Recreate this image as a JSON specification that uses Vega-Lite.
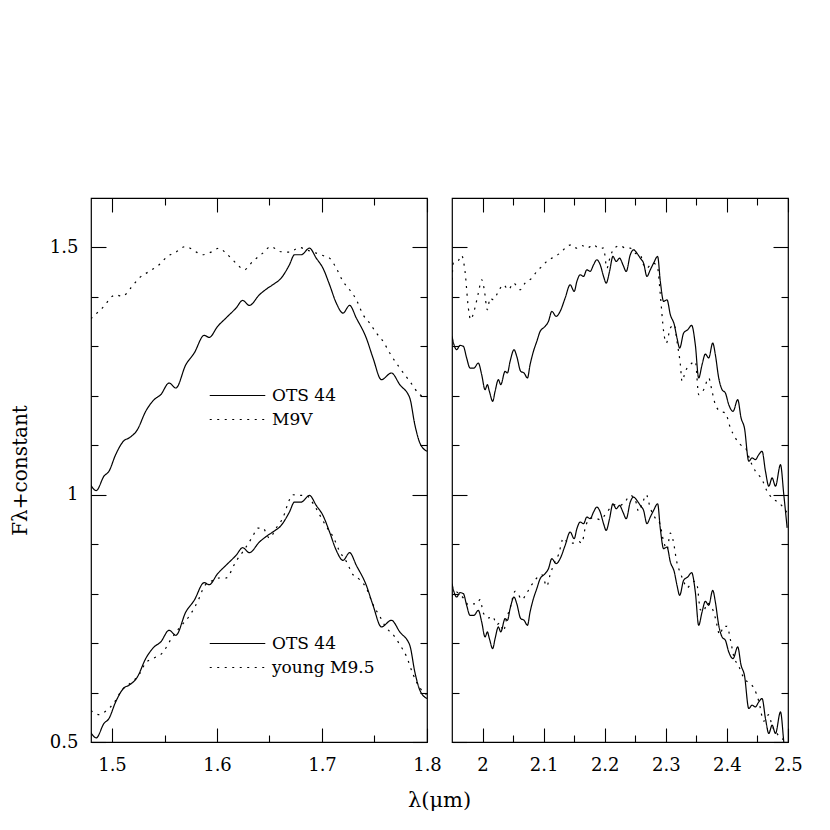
{
  "$schema": "https://vega.github.io/schema/vega-lite/v6.json",
  "padding": {"left": 9, "top": 196, "right": 5, "bottom": 5},
  "bounds": "flush",
  "spacing": 25,
  "datasets": {
    "spectra": [
      {"band":"H","pair":"upper","object":"OTS 44","wl":1.4799,"f":1.019},
      {"band":"H","pair":"upper","object":"OTS 44","wl":1.485,"f":1.0084},
      {"band":"H","pair":"upper","object":"OTS 44","wl":1.4923,"f":1.0374},
      {"band":"H","pair":"upper","object":"OTS 44","wl":1.4971,"f":1.0475},
      {"band":"H","pair":"upper","object":"OTS 44","wl":1.5035,"f":1.0811},
      {"band":"H","pair":"upper","object":"OTS 44","wl":1.5114,"f":1.1094},
      {"band":"H","pair":"upper","object":"OTS 44","wl":1.5162,"f":1.1148},
      {"band":"H","pair":"upper","object":"OTS 44","wl":1.5242,"f":1.1316},
      {"band":"H","pair":"upper","object":"OTS 44","wl":1.5321,"f":1.1687},
      {"band":"H","pair":"upper","object":"OTS 44","wl":1.5401,"f":1.1922},
      {"band":"H","pair":"upper","object":"OTS 44","wl":1.5464,"f":1.2023},
      {"band":"H","pair":"upper","object":"OTS 44","wl":1.5544,"f":1.2259},
      {"band":"H","pair":"upper","object":"OTS 44","wl":1.5608,"f":1.2158},
      {"band":"H","pair":"upper","object":"OTS 44","wl":1.5703,"f":1.2629},
      {"band":"H","pair":"upper","object":"OTS 44","wl":1.5783,"f":1.2865},
      {"band":"H","pair":"upper","object":"OTS 44","wl":1.5878,"f":1.3222},
      {"band":"H","pair":"upper","object":"OTS 44","wl":1.5926,"f":1.3182},
      {"band":"H","pair":"upper","object":"OTS 44","wl":1.6006,"f":1.3404},
      {"band":"H","pair":"upper","object":"OTS 44","wl":1.6085,"f":1.3572},
      {"band":"H","pair":"upper","object":"OTS 44","wl":1.6181,"f":1.3774},
      {"band":"H","pair":"upper","object":"OTS 44","wl":1.6245,"f":1.3929},
      {"band":"H","pair":"upper","object":"OTS 44","wl":1.6308,"f":1.3828},
      {"band":"H","pair":"upper","object":"OTS 44","wl":1.6404,"f":1.4044},
      {"band":"H","pair":"upper","object":"OTS 44","wl":1.6483,"f":1.4178},
      {"band":"H","pair":"upper","object":"OTS 44","wl":1.6531,"f":1.4246},
      {"band":"H","pair":"upper","object":"OTS 44","wl":1.6611,"f":1.438},
      {"band":"H","pair":"upper","object":"OTS 44","wl":1.669,"f":1.465},
      {"band":"H","pair":"upper","object":"OTS 44","wl":1.6738,"f":1.4852},
      {"band":"H","pair":"upper","object":"OTS 44","wl":1.6802,"f":1.4852},
      {"band":"H","pair":"upper","object":"OTS 44","wl":1.6881,"f":1.4986},
      {"band":"H","pair":"upper","object":"OTS 44","wl":1.6945,"f":1.4784},
      {"band":"H","pair":"upper","object":"OTS 44","wl":1.7009,"f":1.4582},
      {"band":"H","pair":"upper","object":"OTS 44","wl":1.7072,"f":1.4246},
      {"band":"H","pair":"upper","object":"OTS 44","wl":1.7136,"f":1.3875},
      {"band":"H","pair":"upper","object":"OTS 44","wl":1.72,"f":1.3673},
      {"band":"H","pair":"upper","object":"OTS 44","wl":1.7263,"f":1.3828},
      {"band":"H","pair":"upper","object":"OTS 44","wl":1.7327,"f":1.3572},
      {"band":"H","pair":"upper","object":"OTS 44","wl":1.7422,"f":1.3168},
      {"band":"H","pair":"upper","object":"OTS 44","wl":1.7486,"f":1.2764},
      {"band":"H","pair":"upper","object":"OTS 44","wl":1.7566,"f":1.2327},
      {"band":"H","pair":"upper","object":"OTS 44","wl":1.7661,"f":1.2461},
      {"band":"H","pair":"upper","object":"OTS 44","wl":1.7741,"f":1.2225},
      {"band":"H","pair":"upper","object":"OTS 44","wl":1.7836,"f":1.1956},
      {"band":"H","pair":"upper","object":"OTS 44","wl":1.7884,"f":1.1417},
      {"band":"H","pair":"upper","object":"OTS 44","wl":1.7932,"f":1.1047},
      {"band":"H","pair":"upper","object":"OTS 44","wl":1.8,"f":1.0879},

      {"band":"H","pair":"upper","object":"M9V","wl":1.4799,"f":1.3559},
      {"band":"H","pair":"upper","object":"M9V","wl":1.4907,"f":1.3774},
      {"band":"H","pair":"upper","object":"M9V","wl":1.5035,"f":1.4044},
      {"band":"H","pair":"upper","object":"M9V","wl":1.5098,"f":1.401},
      {"band":"H","pair":"upper","object":"M9V","wl":1.5178,"f":1.4178},
      {"band":"H","pair":"upper","object":"M9V","wl":1.5258,"f":1.438},
      {"band":"H","pair":"upper","object":"M9V","wl":1.5353,"f":1.4515},
      {"band":"H","pair":"upper","object":"M9V","wl":1.5449,"f":1.465},
      {"band":"H","pair":"upper","object":"M9V","wl":1.5528,"f":1.4818},
      {"band":"H","pair":"upper","object":"M9V","wl":1.5608,"f":1.4905},
      {"band":"H","pair":"upper","object":"M9V","wl":1.5703,"f":1.502},
      {"band":"H","pair":"upper","object":"M9V","wl":1.5783,"f":1.4932},
      {"band":"H","pair":"upper","object":"M9V","wl":1.5862,"f":1.4852},
      {"band":"H","pair":"upper","object":"M9V","wl":1.5942,"f":1.4905},
      {"band":"H","pair":"upper","object":"M9V","wl":1.6022,"f":1.4986},
      {"band":"H","pair":"upper","object":"M9V","wl":1.6085,"f":1.4885},
      {"band":"H","pair":"upper","object":"M9V","wl":1.6181,"f":1.4683},
      {"band":"H","pair":"upper","object":"M9V","wl":1.626,"f":1.4549},
      {"band":"H","pair":"upper","object":"M9V","wl":1.634,"f":1.4717},
      {"band":"H","pair":"upper","object":"M9V","wl":1.6436,"f":1.4885},
      {"band":"H","pair":"upper","object":"M9V","wl":1.6515,"f":1.502},
      {"band":"H","pair":"upper","object":"M9V","wl":1.6595,"f":1.4919},
      {"band":"H","pair":"upper","object":"M9V","wl":1.669,"f":1.4905},
      {"band":"H","pair":"upper","object":"M9V","wl":1.6786,"f":1.5},
      {"band":"H","pair":"upper","object":"M9V","wl":1.6849,"f":1.4953},
      {"band":"H","pair":"upper","object":"M9V","wl":1.6945,"f":1.4885},
      {"band":"H","pair":"upper","object":"M9V","wl":1.7009,"f":1.4838},
      {"band":"H","pair":"upper","object":"M9V","wl":1.7072,"f":1.4784},
      {"band":"H","pair":"upper","object":"M9V","wl":1.7136,"f":1.4582},
      {"band":"H","pair":"upper","object":"M9V","wl":1.72,"f":1.4313},
      {"band":"H","pair":"upper","object":"M9V","wl":1.7263,"f":1.4145},
      {"band":"H","pair":"upper","object":"M9V","wl":1.7327,"f":1.3943},
      {"band":"H","pair":"upper","object":"M9V","wl":1.7391,"f":1.364},
      {"band":"H","pair":"upper","object":"M9V","wl":1.7454,"f":1.3471},
      {"band":"H","pair":"upper","object":"M9V","wl":1.7518,"f":1.3269},
      {"band":"H","pair":"upper","object":"M9V","wl":1.7582,"f":1.3101},
      {"band":"H","pair":"upper","object":"M9V","wl":1.7645,"f":1.2865},
      {"band":"H","pair":"upper","object":"M9V","wl":1.7741,"f":1.2562},
      {"band":"H","pair":"upper","object":"M9V","wl":1.7836,"f":1.2293},
      {"band":"H","pair":"upper","object":"M9V","wl":1.7932,"f":1.2023},
      {"band":"H","pair":"upper","object":"M9V","wl":1.8,"f":1.1956},

      {"band":"H","pair":"lower","object":"OTS 44","wl":1.4799,"f":0.519},
      {"band":"H","pair":"lower","object":"OTS 44","wl":1.485,"f":0.5084},
      {"band":"H","pair":"lower","object":"OTS 44","wl":1.4923,"f":0.5374},
      {"band":"H","pair":"lower","object":"OTS 44","wl":1.4971,"f":0.5475},
      {"band":"H","pair":"lower","object":"OTS 44","wl":1.5035,"f":0.5811},
      {"band":"H","pair":"lower","object":"OTS 44","wl":1.5114,"f":0.6094},
      {"band":"H","pair":"lower","object":"OTS 44","wl":1.5162,"f":0.6148},
      {"band":"H","pair":"lower","object":"OTS 44","wl":1.5242,"f":0.6316},
      {"band":"H","pair":"lower","object":"OTS 44","wl":1.5321,"f":0.6687},
      {"band":"H","pair":"lower","object":"OTS 44","wl":1.5401,"f":0.6922},
      {"band":"H","pair":"lower","object":"OTS 44","wl":1.5464,"f":0.7023},
      {"band":"H","pair":"lower","object":"OTS 44","wl":1.5544,"f":0.7259},
      {"band":"H","pair":"lower","object":"OTS 44","wl":1.5608,"f":0.7158},
      {"band":"H","pair":"lower","object":"OTS 44","wl":1.5703,"f":0.7629},
      {"band":"H","pair":"lower","object":"OTS 44","wl":1.5783,"f":0.7865},
      {"band":"H","pair":"lower","object":"OTS 44","wl":1.5878,"f":0.8222},
      {"band":"H","pair":"lower","object":"OTS 44","wl":1.5926,"f":0.8182},
      {"band":"H","pair":"lower","object":"OTS 44","wl":1.6006,"f":0.8404},
      {"band":"H","pair":"lower","object":"OTS 44","wl":1.6085,"f":0.8572},
      {"band":"H","pair":"lower","object":"OTS 44","wl":1.6181,"f":0.8774},
      {"band":"H","pair":"lower","object":"OTS 44","wl":1.6245,"f":0.8929},
      {"band":"H","pair":"lower","object":"OTS 44","wl":1.6308,"f":0.8828},
      {"band":"H","pair":"lower","object":"OTS 44","wl":1.6404,"f":0.9044},
      {"band":"H","pair":"lower","object":"OTS 44","wl":1.6483,"f":0.9178},
      {"band":"H","pair":"lower","object":"OTS 44","wl":1.6531,"f":0.9246},
      {"band":"H","pair":"lower","object":"OTS 44","wl":1.6611,"f":0.938},
      {"band":"H","pair":"lower","object":"OTS 44","wl":1.669,"f":0.965},
      {"band":"H","pair":"lower","object":"OTS 44","wl":1.6738,"f":0.9852},
      {"band":"H","pair":"lower","object":"OTS 44","wl":1.6802,"f":0.9852},
      {"band":"H","pair":"lower","object":"OTS 44","wl":1.6881,"f":0.9986},
      {"band":"H","pair":"lower","object":"OTS 44","wl":1.6945,"f":0.9784},
      {"band":"H","pair":"lower","object":"OTS 44","wl":1.7009,"f":0.9582},
      {"band":"H","pair":"lower","object":"OTS 44","wl":1.7072,"f":0.9246},
      {"band":"H","pair":"lower","object":"OTS 44","wl":1.7136,"f":0.8875},
      {"band":"H","pair":"lower","object":"OTS 44","wl":1.72,"f":0.8673},
      {"band":"H","pair":"lower","object":"OTS 44","wl":1.7263,"f":0.8828},
      {"band":"H","pair":"lower","object":"OTS 44","wl":1.7327,"f":0.8572},
      {"band":"H","pair":"lower","object":"OTS 44","wl":1.7422,"f":0.8168},
      {"band":"H","pair":"lower","object":"OTS 44","wl":1.7486,"f":0.7764},
      {"band":"H","pair":"lower","object":"OTS 44","wl":1.7566,"f":0.7327},
      {"band":"H","pair":"lower","object":"OTS 44","wl":1.7661,"f":0.7461},
      {"band":"H","pair":"lower","object":"OTS 44","wl":1.7741,"f":0.7225},
      {"band":"H","pair":"lower","object":"OTS 44","wl":1.7836,"f":0.6956},
      {"band":"H","pair":"lower","object":"OTS 44","wl":1.7884,"f":0.6417},
      {"band":"H","pair":"lower","object":"OTS 44","wl":1.7932,"f":0.6047},
      {"band":"H","pair":"lower","object":"OTS 44","wl":1.8,"f":0.5879},

      {"band":"H","pair":"lower","object":"young M9.5","wl":1.4799,"f":0.5636},
      {"band":"H","pair":"lower","object":"young M9.5","wl":1.4876,"f":0.5555},
      {"band":"H","pair":"lower","object":"young M9.5","wl":1.4939,"f":0.5623},
      {"band":"H","pair":"lower","object":"young M9.5","wl":1.5019,"f":0.5791},
      {"band":"H","pair":"lower","object":"young M9.5","wl":1.5098,"f":0.606},
      {"band":"H","pair":"lower","object":"young M9.5","wl":1.5178,"f":0.6195},
      {"band":"H","pair":"lower","object":"young M9.5","wl":1.5258,"f":0.6363},
      {"band":"H","pair":"lower","object":"young M9.5","wl":1.5321,"f":0.6599},
      {"band":"H","pair":"lower","object":"young M9.5","wl":1.5401,"f":0.67},
      {"band":"H","pair":"lower","object":"young M9.5","wl":1.548,"f":0.6801},
      {"band":"H","pair":"lower","object":"young M9.5","wl":1.556,"f":0.707},
      {"band":"H","pair":"lower","object":"young M9.5","wl":1.564,"f":0.7306},
      {"band":"H","pair":"lower","object":"young M9.5","wl":1.5735,"f":0.7542},
      {"band":"H","pair":"lower","object":"young M9.5","wl":1.5831,"f":0.7912},
      {"band":"H","pair":"lower","object":"young M9.5","wl":1.5878,"f":0.8148},
      {"band":"H","pair":"lower","object":"young M9.5","wl":1.5942,"f":0.8249},
      {"band":"H","pair":"lower","object":"young M9.5","wl":1.6022,"f":0.8316},
      {"band":"H","pair":"lower","object":"young M9.5","wl":1.6085,"f":0.8316},
      {"band":"H","pair":"lower","object":"young M9.5","wl":1.6181,"f":0.8653},
      {"band":"H","pair":"lower","object":"young M9.5","wl":1.626,"f":0.8889},
      {"band":"H","pair":"lower","object":"young M9.5","wl":1.634,"f":0.9158},
      {"band":"H","pair":"lower","object":"young M9.5","wl":1.6388,"f":0.9326},
      {"band":"H","pair":"lower","object":"young M9.5","wl":1.6436,"f":0.9326},
      {"band":"H","pair":"lower","object":"young M9.5","wl":1.6499,"f":0.9124},
      {"band":"H","pair":"lower","object":"young M9.5","wl":1.6563,"f":0.9326},
      {"band":"H","pair":"lower","object":"young M9.5","wl":1.6627,"f":0.9528},
      {"band":"H","pair":"lower","object":"young M9.5","wl":1.669,"f":0.9899},
      {"band":"H","pair":"lower","object":"young M9.5","wl":1.6722,"f":1.0},
      {"band":"H","pair":"lower","object":"young M9.5","wl":1.6786,"f":0.9986},
      {"band":"H","pair":"lower","object":"young M9.5","wl":1.6849,"f":0.9986},
      {"band":"H","pair":"lower","object":"young M9.5","wl":1.6913,"f":0.9831},
      {"band":"H","pair":"lower","object":"young M9.5","wl":1.6977,"f":0.9596},
      {"band":"H","pair":"lower","object":"young M9.5","wl":1.704,"f":0.936},
      {"band":"H","pair":"lower","object":"young M9.5","wl":1.7104,"f":0.9158},
      {"band":"H","pair":"lower","object":"young M9.5","wl":1.7168,"f":0.8855},
      {"band":"H","pair":"lower","object":"young M9.5","wl":1.7231,"f":0.8653},
      {"band":"H","pair":"lower","object":"young M9.5","wl":1.7295,"f":0.8383},
      {"band":"H","pair":"lower","object":"young M9.5","wl":1.7359,"f":0.8283},
      {"band":"H","pair":"lower","object":"young M9.5","wl":1.7422,"f":0.8114},
      {"band":"H","pair":"lower","object":"young M9.5","wl":1.7486,"f":0.7778},
      {"band":"H","pair":"lower","object":"young M9.5","wl":1.755,"f":0.7542},
      {"band":"H","pair":"lower","object":"young M9.5","wl":1.7613,"f":0.7306},
      {"band":"H","pair":"lower","object":"young M9.5","wl":1.7677,"f":0.7171},
      {"band":"H","pair":"lower","object":"young M9.5","wl":1.7741,"f":0.6969},
      {"band":"H","pair":"lower","object":"young M9.5","wl":1.7804,"f":0.6733},
      {"band":"H","pair":"lower","object":"young M9.5","wl":1.7868,"f":0.6363},
      {"band":"H","pair":"lower","object":"young M9.5","wl":1.7932,"f":0.6094},
      {"band":"H","pair":"lower","object":"young M9.5","wl":1.7995,"f":0.5959},

      {"band":"K","pair":"upper","object":"OTS 44","wl":1.95,"f":1.3202},
      {"band":"K","pair":"upper","object":"OTS 44","wl":1.9533,"f":1.3033},
      {"band":"K","pair":"upper","object":"OTS 44","wl":1.9576,"f":1.2932},
      {"band":"K","pair":"upper","object":"OTS 44","wl":1.9631,"f":1.302},
      {"band":"K","pair":"upper","object":"OTS 44","wl":1.9686,"f":1.3},
      {"band":"K","pair":"upper","object":"OTS 44","wl":1.974,"f":1.2764},
      {"band":"K","pair":"upper","object":"OTS 44","wl":1.9795,"f":1.2562},
      {"band":"K","pair":"upper","object":"OTS 44","wl":1.986,"f":1.2562},
      {"band":"K","pair":"upper","object":"OTS 44","wl":1.9931,"f":1.2663},
      {"band":"K","pair":"upper","object":"OTS 44","wl":1.9986,"f":1.2427},
      {"band":"K","pair":"upper","object":"OTS 44","wl":2.0041,"f":1.2124},
      {"band":"K","pair":"upper","object":"OTS 44","wl":2.0079,"f":1.2225},
      {"band":"K","pair":"upper","object":"OTS 44","wl":2.0112,"f":1.209},
      {"band":"K","pair":"upper","object":"OTS 44","wl":2.0166,"f":1.1889},
      {"band":"K","pair":"upper","object":"OTS 44","wl":2.0205,"f":1.209},
      {"band":"K","pair":"upper","object":"OTS 44","wl":2.0259,"f":1.2326},
      {"band":"K","pair":"upper","object":"OTS 44","wl":2.0298,"f":1.2225},
      {"band":"K","pair":"upper","object":"OTS 44","wl":2.0369,"f":1.2495},
      {"band":"K","pair":"upper","object":"OTS 44","wl":2.0407,"f":1.2461},
      {"band":"K","pair":"upper","object":"OTS 44","wl":2.0451,"f":1.2697},
      {"band":"K","pair":"upper","object":"OTS 44","wl":2.0516,"f":1.2932},
      {"band":"K","pair":"upper","object":"OTS 44","wl":2.056,"f":1.2798},
      {"band":"K","pair":"upper","object":"OTS 44","wl":2.0625,"f":1.2495},
      {"band":"K","pair":"upper","object":"OTS 44","wl":2.068,"f":1.2461},
      {"band":"K","pair":"upper","object":"OTS 44","wl":2.0735,"f":1.236},
      {"band":"K","pair":"upper","object":"OTS 44","wl":2.0778,"f":1.2629},
      {"band":"K","pair":"upper","object":"OTS 44","wl":2.0833,"f":1.2899},
      {"band":"K","pair":"upper","object":"OTS 44","wl":2.0888,"f":1.3101},
      {"band":"K","pair":"upper","object":"OTS 44","wl":2.0943,"f":1.3303},
      {"band":"K","pair":"upper","object":"OTS 44","wl":2.1024,"f":1.3404},
      {"band":"K","pair":"upper","object":"OTS 44","wl":2.1079,"f":1.3505},
      {"band":"K","pair":"upper","object":"OTS 44","wl":2.1134,"f":1.3707},
      {"band":"K","pair":"upper","object":"OTS 44","wl":2.1205,"f":1.3606},
      {"band":"K","pair":"upper","object":"OTS 44","wl":2.127,"f":1.3707},
      {"band":"K","pair":"upper","object":"OTS 44","wl":2.1352,"f":1.3976},
      {"band":"K","pair":"upper","object":"OTS 44","wl":2.1434,"f":1.4246},
      {"band":"K","pair":"upper","object":"OTS 44","wl":2.15,"f":1.4111},
      {"band":"K","pair":"upper","object":"OTS 44","wl":2.1544,"f":1.4313},
      {"band":"K","pair":"upper","object":"OTS 44","wl":2.1598,"f":1.4448},
      {"band":"K","pair":"upper","object":"OTS 44","wl":2.1653,"f":1.4414},
      {"band":"K","pair":"upper","object":"OTS 44","wl":2.1707,"f":1.4549},
      {"band":"K","pair":"upper","object":"OTS 44","wl":2.1762,"f":1.4515},
      {"band":"K","pair":"upper","object":"OTS 44","wl":2.1817,"f":1.465},
      {"band":"K","pair":"upper","object":"OTS 44","wl":2.1871,"f":1.4751},
      {"band":"K","pair":"upper","object":"OTS 44","wl":2.1926,"f":1.465},
      {"band":"K","pair":"upper","object":"OTS 44","wl":2.1981,"f":1.4414},
      {"band":"K","pair":"upper","object":"OTS 44","wl":2.2024,"f":1.4279},
      {"band":"K","pair":"upper","object":"OTS 44","wl":2.2079,"f":1.4515},
      {"band":"K","pair":"upper","object":"OTS 44","wl":2.2134,"f":1.4818},
      {"band":"K","pair":"upper","object":"OTS 44","wl":2.2188,"f":1.4717},
      {"band":"K","pair":"upper","object":"OTS 44","wl":2.2243,"f":1.4784},
      {"band":"K","pair":"upper","object":"OTS 44","wl":2.2298,"f":1.465},
      {"band":"K","pair":"upper","object":"OTS 44","wl":2.2352,"f":1.4515},
      {"band":"K","pair":"upper","object":"OTS 44","wl":2.2418,"f":1.4852},
      {"band":"K","pair":"upper","object":"OTS 44","wl":2.2473,"f":1.4953},
      {"band":"K","pair":"upper","object":"OTS 44","wl":2.2527,"f":1.4885},
      {"band":"K","pair":"upper","object":"OTS 44","wl":2.2582,"f":1.4784},
      {"band":"K","pair":"upper","object":"OTS 44","wl":2.2636,"f":1.4683},
      {"band":"K","pair":"upper","object":"OTS 44","wl":2.2691,"f":1.4414},
      {"band":"K","pair":"upper","object":"OTS 44","wl":2.2746,"f":1.4549},
      {"band":"K","pair":"upper","object":"OTS 44","wl":2.28,"f":1.4683},
      {"band":"K","pair":"upper","object":"OTS 44","wl":2.2866,"f":1.4818},
      {"band":"K","pair":"upper","object":"OTS 44","wl":2.291,"f":1.4313},
      {"band":"K","pair":"upper","object":"OTS 44","wl":2.2964,"f":1.3909},
      {"band":"K","pair":"upper","object":"OTS 44","wl":2.3019,"f":1.3943},
      {"band":"K","pair":"upper","object":"OTS 44","wl":2.3074,"f":1.364},
      {"band":"K","pair":"upper","object":"OTS 44","wl":2.3139,"f":1.3438},
      {"band":"K","pair":"upper","object":"OTS 44","wl":2.3183,"f":1.3168},
      {"band":"K","pair":"upper","object":"OTS 44","wl":2.3227,"f":1.2966},
      {"band":"K","pair":"upper","object":"OTS 44","wl":2.3292,"f":1.327},
      {"band":"K","pair":"upper","object":"OTS 44","wl":2.3358,"f":1.3337},
      {"band":"K","pair":"upper","object":"OTS 44","wl":2.3423,"f":1.3424},
      {"band":"K","pair":"upper","object":"OTS 44","wl":2.3483,"f":1.3033},
      {"band":"K","pair":"upper","object":"OTS 44","wl":2.3538,"f":1.236},
      {"band":"K","pair":"upper","object":"OTS 44","wl":2.3593,"f":1.2629},
      {"band":"K","pair":"upper","object":"OTS 44","wl":2.3647,"f":1.2845},
      {"band":"K","pair":"upper","object":"OTS 44","wl":2.3702,"f":1.2764},
      {"band":"K","pair":"upper","object":"OTS 44","wl":2.3768,"f":1.3067},
      {"band":"K","pair":"upper","object":"OTS 44","wl":2.3811,"f":1.2831},
      {"band":"K","pair":"upper","object":"OTS 44","wl":2.3866,"f":1.236},
      {"band":"K","pair":"upper","object":"OTS 44","wl":2.3921,"f":1.2124},
      {"band":"K","pair":"upper","object":"OTS 44","wl":2.3975,"f":1.2057},
      {"band":"K","pair":"upper","object":"OTS 44","wl":2.403,"f":1.1821},
      {"band":"K","pair":"upper","object":"OTS 44","wl":2.4101,"f":1.1687},
      {"band":"K","pair":"upper","object":"OTS 44","wl":2.4177,"f":1.1922},
      {"band":"K","pair":"upper","object":"OTS 44","wl":2.4232,"f":1.1552},
      {"band":"K","pair":"upper","object":"OTS 44","wl":2.4287,"f":1.135},
      {"band":"K","pair":"upper","object":"OTS 44","wl":2.4358,"f":1.0677},
      {"band":"K","pair":"upper","object":"OTS 44","wl":2.4412,"f":1.0744},
      {"band":"K","pair":"upper","object":"OTS 44","wl":2.4467,"f":1.071},
      {"band":"K","pair":"upper","object":"OTS 44","wl":2.4522,"f":1.0811},
      {"band":"K","pair":"upper","object":"OTS 44","wl":2.4576,"f":1.0879},
      {"band":"K","pair":"upper","object":"OTS 44","wl":2.4631,"f":1.0475},
      {"band":"K","pair":"upper","object":"OTS 44","wl":2.4686,"f":1.0172},
      {"band":"K","pair":"upper","object":"OTS 44","wl":2.474,"f":1.034},
      {"band":"K","pair":"upper","object":"OTS 44","wl":2.4795,"f":1.0172},
      {"band":"K","pair":"upper","object":"OTS 44","wl":2.4877,"f":1.0609},
      {"band":"K","pair":"upper","object":"OTS 44","wl":2.4931,"f":1.0003},
      {"band":"K","pair":"upper","object":"OTS 44","wl":2.4986,"f":0.933},

      {"band":"K","pair":"upper","object":"M9V","wl":1.95,"f":1.4347},
      {"band":"K","pair":"upper","object":"M9V","wl":1.9522,"f":1.4683},
      {"band":"K","pair":"upper","object":"M9V","wl":1.9587,"f":1.4703},
      {"band":"K","pair":"upper","object":"M9V","wl":1.9658,"f":1.4838},
      {"band":"K","pair":"upper","object":"M9V","wl":1.9713,"f":1.4515},
      {"band":"K","pair":"upper","object":"M9V","wl":1.9768,"f":1.3774},
      {"band":"K","pair":"upper","object":"M9V","wl":1.9806,"f":1.3539},
      {"band":"K","pair":"upper","object":"M9V","wl":1.986,"f":1.3707},
      {"band":"K","pair":"upper","object":"M9V","wl":1.9931,"f":1.4077},
      {"band":"K","pair":"upper","object":"M9V","wl":1.9986,"f":1.4347},
      {"band":"K","pair":"upper","object":"M9V","wl":2.0024,"f":1.4178},
      {"band":"K","pair":"upper","object":"M9V","wl":2.0079,"f":1.3741},
      {"band":"K","pair":"upper","object":"M9V","wl":2.0123,"f":1.3976},
      {"band":"K","pair":"upper","object":"M9V","wl":2.0177,"f":1.3943},
      {"band":"K","pair":"upper","object":"M9V","wl":2.0259,"f":1.4111},
      {"band":"K","pair":"upper","object":"M9V","wl":2.0341,"f":1.4246},
      {"band":"K","pair":"upper","object":"M9V","wl":2.0423,"f":1.4145},
      {"band":"K","pair":"upper","object":"M9V","wl":2.0505,"f":1.428},
      {"band":"K","pair":"upper","object":"M9V","wl":2.0615,"f":1.4145},
      {"band":"K","pair":"upper","object":"M9V","wl":2.0696,"f":1.428},
      {"band":"K","pair":"upper","object":"M9V","wl":2.0806,"f":1.438},
      {"band":"K","pair":"upper","object":"M9V","wl":2.0888,"f":1.4515},
      {"band":"K","pair":"upper","object":"M9V","wl":2.097,"f":1.4616},
      {"band":"K","pair":"upper","object":"M9V","wl":2.1052,"f":1.4717},
      {"band":"K","pair":"upper","object":"M9V","wl":2.1134,"f":1.4784},
      {"band":"K","pair":"upper","object":"M9V","wl":2.1216,"f":1.4838},
      {"band":"K","pair":"upper","object":"M9V","wl":2.1298,"f":1.4919},
      {"band":"K","pair":"upper","object":"M9V","wl":2.138,"f":1.502},
      {"band":"K","pair":"upper","object":"M9V","wl":2.1461,"f":1.5054},
      {"band":"K","pair":"upper","object":"M9V","wl":2.1543,"f":1.4986},
      {"band":"K","pair":"upper","object":"M9V","wl":2.1625,"f":1.504},
      {"band":"K","pair":"upper","object":"M9V","wl":2.1707,"f":1.4986},
      {"band":"K","pair":"upper","object":"M9V","wl":2.1817,"f":1.5054},
      {"band":"K","pair":"upper","object":"M9V","wl":2.1899,"f":1.4986},
      {"band":"K","pair":"upper","object":"M9V","wl":2.1981,"f":1.4986},
      {"band":"K","pair":"upper","object":"M9V","wl":2.2035,"f":1.4582},
      {"band":"K","pair":"upper","object":"M9V","wl":2.209,"f":1.4818},
      {"band":"K","pair":"upper","object":"M9V","wl":2.2172,"f":1.5},
      {"band":"K","pair":"upper","object":"M9V","wl":2.2254,"f":1.504},
      {"band":"K","pair":"upper","object":"M9V","wl":2.2336,"f":1.4986},
      {"band":"K","pair":"upper","object":"M9V","wl":2.2418,"f":1.4986},
      {"band":"K","pair":"upper","object":"M9V","wl":2.25,"f":1.4885},
      {"band":"K","pair":"upper","object":"M9V","wl":2.2582,"f":1.4852},
      {"band":"K","pair":"upper","object":"M9V","wl":2.2636,"f":1.465},
      {"band":"K","pair":"upper","object":"M9V","wl":2.2691,"f":1.4582},
      {"band":"K","pair":"upper","object":"M9V","wl":2.2746,"f":1.465},
      {"band":"K","pair":"upper","object":"M9V","wl":2.28,"f":1.4683},
      {"band":"K","pair":"upper","object":"M9V","wl":2.2866,"f":1.4582},
      {"band":"K","pair":"upper","object":"M9V","wl":2.291,"f":1.4044},
      {"band":"K","pair":"upper","object":"M9V","wl":2.2964,"f":1.3303},
      {"band":"K","pair":"upper","object":"M9V","wl":2.3008,"f":1.3067},
      {"band":"K","pair":"upper","object":"M9V","wl":2.3074,"f":1.337},
      {"band":"K","pair":"upper","object":"M9V","wl":2.3139,"f":1.3438},
      {"band":"K","pair":"upper","object":"M9V","wl":2.3183,"f":1.3101},
      {"band":"K","pair":"upper","object":"M9V","wl":2.3238,"f":1.2629},
      {"band":"K","pair":"upper","object":"M9V","wl":2.3265,"f":1.2293},
      {"band":"K","pair":"upper","object":"M9V","wl":2.332,"f":1.2495},
      {"band":"K","pair":"upper","object":"M9V","wl":2.3401,"f":1.2629},
      {"band":"K","pair":"upper","object":"M9V","wl":2.3483,"f":1.2697},
      {"band":"K","pair":"upper","object":"M9V","wl":2.3538,"f":1.2023},
      {"band":"K","pair":"upper","object":"M9V","wl":2.362,"f":1.2124},
      {"band":"K","pair":"upper","object":"M9V","wl":2.3702,"f":1.236},
      {"band":"K","pair":"upper","object":"M9V","wl":2.3757,"f":1.209},
      {"band":"K","pair":"upper","object":"M9V","wl":2.3811,"f":1.1821},
      {"band":"K","pair":"upper","object":"M9V","wl":2.3893,"f":1.1687},
      {"band":"K","pair":"upper","object":"M9V","wl":2.3975,"f":1.1653},
      {"band":"K","pair":"upper","object":"M9V","wl":2.4057,"f":1.135},
      {"band":"K","pair":"upper","object":"M9V","wl":2.4139,"f":1.1148},
      {"band":"K","pair":"upper","object":"M9V","wl":2.4221,"f":1.1013},
      {"band":"K","pair":"upper","object":"M9V","wl":2.4303,"f":1.0946},
      {"band":"K","pair":"upper","object":"M9V","wl":2.4385,"f":1.0677},
      {"band":"K","pair":"upper","object":"M9V","wl":2.4467,"f":1.0475},
      {"band":"K","pair":"upper","object":"M9V","wl":2.4576,"f":1.0306},
      {"band":"K","pair":"upper","object":"M9V","wl":2.4658,"f":1.007},
      {"band":"K","pair":"upper","object":"M9V","wl":2.474,"f":0.9936},
      {"band":"K","pair":"upper","object":"M9V","wl":2.4849,"f":0.9835},
      {"band":"K","pair":"upper","object":"M9V","wl":2.4931,"f":0.9734},
      {"band":"K","pair":"upper","object":"M9V","wl":2.4986,"f":0.9633},

      {"band":"K","pair":"lower","object":"OTS 44","wl":1.95,"f":0.8202},
      {"band":"K","pair":"lower","object":"OTS 44","wl":1.9533,"f":0.8033},
      {"band":"K","pair":"lower","object":"OTS 44","wl":1.9576,"f":0.7932},
      {"band":"K","pair":"lower","object":"OTS 44","wl":1.9631,"f":0.802},
      {"band":"K","pair":"lower","object":"OTS 44","wl":1.9686,"f":0.8},
      {"band":"K","pair":"lower","object":"OTS 44","wl":1.974,"f":0.7764},
      {"band":"K","pair":"lower","object":"OTS 44","wl":1.9795,"f":0.7562},
      {"band":"K","pair":"lower","object":"OTS 44","wl":1.986,"f":0.7562},
      {"band":"K","pair":"lower","object":"OTS 44","wl":1.9931,"f":0.7663},
      {"band":"K","pair":"lower","object":"OTS 44","wl":1.9986,"f":0.7427},
      {"band":"K","pair":"lower","object":"OTS 44","wl":2.0041,"f":0.7124},
      {"band":"K","pair":"lower","object":"OTS 44","wl":2.0079,"f":0.7225},
      {"band":"K","pair":"lower","object":"OTS 44","wl":2.0112,"f":0.709},
      {"band":"K","pair":"lower","object":"OTS 44","wl":2.0166,"f":0.6889},
      {"band":"K","pair":"lower","object":"OTS 44","wl":2.0205,"f":0.709},
      {"band":"K","pair":"lower","object":"OTS 44","wl":2.0259,"f":0.7326},
      {"band":"K","pair":"lower","object":"OTS 44","wl":2.0298,"f":0.7225},
      {"band":"K","pair":"lower","object":"OTS 44","wl":2.0369,"f":0.7495},
      {"band":"K","pair":"lower","object":"OTS 44","wl":2.0407,"f":0.7461},
      {"band":"K","pair":"lower","object":"OTS 44","wl":2.0451,"f":0.7697},
      {"band":"K","pair":"lower","object":"OTS 44","wl":2.0516,"f":0.7932},
      {"band":"K","pair":"lower","object":"OTS 44","wl":2.056,"f":0.7798},
      {"band":"K","pair":"lower","object":"OTS 44","wl":2.0625,"f":0.7495},
      {"band":"K","pair":"lower","object":"OTS 44","wl":2.068,"f":0.7461},
      {"band":"K","pair":"lower","object":"OTS 44","wl":2.0735,"f":0.736},
      {"band":"K","pair":"lower","object":"OTS 44","wl":2.0778,"f":0.7629},
      {"band":"K","pair":"lower","object":"OTS 44","wl":2.0833,"f":0.7899},
      {"band":"K","pair":"lower","object":"OTS 44","wl":2.0888,"f":0.8101},
      {"band":"K","pair":"lower","object":"OTS 44","wl":2.0943,"f":0.8303},
      {"band":"K","pair":"lower","object":"OTS 44","wl":2.1024,"f":0.8404},
      {"band":"K","pair":"lower","object":"OTS 44","wl":2.1079,"f":0.8505},
      {"band":"K","pair":"lower","object":"OTS 44","wl":2.1134,"f":0.8707},
      {"band":"K","pair":"lower","object":"OTS 44","wl":2.1205,"f":0.8606},
      {"band":"K","pair":"lower","object":"OTS 44","wl":2.127,"f":0.8707},
      {"band":"K","pair":"lower","object":"OTS 44","wl":2.1352,"f":0.8976},
      {"band":"K","pair":"lower","object":"OTS 44","wl":2.1434,"f":0.9246},
      {"band":"K","pair":"lower","object":"OTS 44","wl":2.15,"f":0.9111},
      {"band":"K","pair":"lower","object":"OTS 44","wl":2.1544,"f":0.9313},
      {"band":"K","pair":"lower","object":"OTS 44","wl":2.1598,"f":0.9448},
      {"band":"K","pair":"lower","object":"OTS 44","wl":2.1653,"f":0.9414},
      {"band":"K","pair":"lower","object":"OTS 44","wl":2.1707,"f":0.9549},
      {"band":"K","pair":"lower","object":"OTS 44","wl":2.1762,"f":0.9515},
      {"band":"K","pair":"lower","object":"OTS 44","wl":2.1817,"f":0.965},
      {"band":"K","pair":"lower","object":"OTS 44","wl":2.1871,"f":0.9751},
      {"band":"K","pair":"lower","object":"OTS 44","wl":2.1926,"f":0.965},
      {"band":"K","pair":"lower","object":"OTS 44","wl":2.1981,"f":0.9414},
      {"band":"K","pair":"lower","object":"OTS 44","wl":2.2024,"f":0.9279},
      {"band":"K","pair":"lower","object":"OTS 44","wl":2.2079,"f":0.9515},
      {"band":"K","pair":"lower","object":"OTS 44","wl":2.2134,"f":0.9818},
      {"band":"K","pair":"lower","object":"OTS 44","wl":2.2188,"f":0.9717},
      {"band":"K","pair":"lower","object":"OTS 44","wl":2.2243,"f":0.9784},
      {"band":"K","pair":"lower","object":"OTS 44","wl":2.2298,"f":0.965},
      {"band":"K","pair":"lower","object":"OTS 44","wl":2.2352,"f":0.9515},
      {"band":"K","pair":"lower","object":"OTS 44","wl":2.2418,"f":0.9852},
      {"band":"K","pair":"lower","object":"OTS 44","wl":2.2473,"f":0.9953},
      {"band":"K","pair":"lower","object":"OTS 44","wl":2.2527,"f":0.9885},
      {"band":"K","pair":"lower","object":"OTS 44","wl":2.2582,"f":0.9784},
      {"band":"K","pair":"lower","object":"OTS 44","wl":2.2636,"f":0.9683},
      {"band":"K","pair":"lower","object":"OTS 44","wl":2.2691,"f":0.9414},
      {"band":"K","pair":"lower","object":"OTS 44","wl":2.2746,"f":0.9549},
      {"band":"K","pair":"lower","object":"OTS 44","wl":2.28,"f":0.9683},
      {"band":"K","pair":"lower","object":"OTS 44","wl":2.2866,"f":0.9818},
      {"band":"K","pair":"lower","object":"OTS 44","wl":2.291,"f":0.9313},
      {"band":"K","pair":"lower","object":"OTS 44","wl":2.2964,"f":0.8909},
      {"band":"K","pair":"lower","object":"OTS 44","wl":2.3019,"f":0.8943},
      {"band":"K","pair":"lower","object":"OTS 44","wl":2.3074,"f":0.864},
      {"band":"K","pair":"lower","object":"OTS 44","wl":2.3139,"f":0.8438},
      {"band":"K","pair":"lower","object":"OTS 44","wl":2.3183,"f":0.8168},
      {"band":"K","pair":"lower","object":"OTS 44","wl":2.3227,"f":0.7966},
      {"band":"K","pair":"lower","object":"OTS 44","wl":2.3292,"f":0.827},
      {"band":"K","pair":"lower","object":"OTS 44","wl":2.3358,"f":0.8337},
      {"band":"K","pair":"lower","object":"OTS 44","wl":2.3423,"f":0.8424},
      {"band":"K","pair":"lower","object":"OTS 44","wl":2.3483,"f":0.8033},
      {"band":"K","pair":"lower","object":"OTS 44","wl":2.3538,"f":0.736},
      {"band":"K","pair":"lower","object":"OTS 44","wl":2.3593,"f":0.7629},
      {"band":"K","pair":"lower","object":"OTS 44","wl":2.3647,"f":0.7845},
      {"band":"K","pair":"lower","object":"OTS 44","wl":2.3702,"f":0.7764},
      {"band":"K","pair":"lower","object":"OTS 44","wl":2.3768,"f":0.8067},
      {"band":"K","pair":"lower","object":"OTS 44","wl":2.3811,"f":0.7831},
      {"band":"K","pair":"lower","object":"OTS 44","wl":2.3866,"f":0.736},
      {"band":"K","pair":"lower","object":"OTS 44","wl":2.3921,"f":0.7124},
      {"band":"K","pair":"lower","object":"OTS 44","wl":2.3975,"f":0.7057},
      {"band":"K","pair":"lower","object":"OTS 44","wl":2.403,"f":0.6821},
      {"band":"K","pair":"lower","object":"OTS 44","wl":2.4101,"f":0.6687},
      {"band":"K","pair":"lower","object":"OTS 44","wl":2.4177,"f":0.6922},
      {"band":"K","pair":"lower","object":"OTS 44","wl":2.4232,"f":0.6552},
      {"band":"K","pair":"lower","object":"OTS 44","wl":2.4287,"f":0.635},
      {"band":"K","pair":"lower","object":"OTS 44","wl":2.4358,"f":0.5677},
      {"band":"K","pair":"lower","object":"OTS 44","wl":2.4412,"f":0.5744},
      {"band":"K","pair":"lower","object":"OTS 44","wl":2.4467,"f":0.571},
      {"band":"K","pair":"lower","object":"OTS 44","wl":2.4522,"f":0.5811},
      {"band":"K","pair":"lower","object":"OTS 44","wl":2.4576,"f":0.5879},
      {"band":"K","pair":"lower","object":"OTS 44","wl":2.4631,"f":0.5475},
      {"band":"K","pair":"lower","object":"OTS 44","wl":2.4686,"f":0.5172},
      {"band":"K","pair":"lower","object":"OTS 44","wl":2.474,"f":0.534},
      {"band":"K","pair":"lower","object":"OTS 44","wl":2.4795,"f":0.5172},
      {"band":"K","pair":"lower","object":"OTS 44","wl":2.4877,"f":0.5609},
      {"band":"K","pair":"lower","object":"OTS 44","wl":2.4931,"f":0.5003},
      {"band":"K","pair":"lower","object":"OTS 44","wl":2.4986,"f":0.433},

      {"band":"K","pair":"lower","object":"young M9.5","wl":1.95,"f":0.7946},
      {"band":"K","pair":"lower","object":"young M9.5","wl":1.9549,"f":0.8047},
      {"band":"K","pair":"lower","object":"young M9.5","wl":1.9604,"f":0.8013},
      {"band":"K","pair":"lower","object":"young M9.5","wl":1.9686,"f":0.7912},
      {"band":"K","pair":"lower","object":"young M9.5","wl":1.9768,"f":0.7777},
      {"band":"K","pair":"lower","object":"young M9.5","wl":1.985,"f":0.7791},
      {"band":"K","pair":"lower","object":"young M9.5","wl":1.9904,"f":0.7791},
      {"band":"K","pair":"lower","object":"young M9.5","wl":1.9959,"f":0.7878},
      {"band":"K","pair":"lower","object":"young M9.5","wl":2.0013,"f":0.7609},
      {"band":"K","pair":"lower","object":"young M9.5","wl":2.0095,"f":0.7508},
      {"band":"K","pair":"lower","object":"young M9.5","wl":2.0166,"f":0.7542},
      {"band":"K","pair":"lower","object":"young M9.5","wl":2.0232,"f":0.7373},
      {"band":"K","pair":"lower","object":"young M9.5","wl":2.0287,"f":0.7407},
      {"band":"K","pair":"lower","object":"young M9.5","wl":2.0341,"f":0.7239},
      {"band":"K","pair":"lower","object":"young M9.5","wl":2.0396,"f":0.7508},
      {"band":"K","pair":"lower","object":"young M9.5","wl":2.0451,"f":0.771},
      {"band":"K","pair":"lower","object":"young M9.5","wl":2.0533,"f":0.8047},
      {"band":"K","pair":"lower","object":"young M9.5","wl":2.0587,"f":0.7979},
      {"band":"K","pair":"lower","object":"young M9.5","wl":2.0642,"f":0.7878},
      {"band":"K","pair":"lower","object":"young M9.5","wl":2.0724,"f":0.8013},
      {"band":"K","pair":"lower","object":"young M9.5","wl":2.0806,"f":0.8181},
      {"band":"K","pair":"lower","object":"young M9.5","wl":2.0888,"f":0.8316},
      {"band":"K","pair":"lower","object":"young M9.5","wl":2.097,"f":0.8383},
      {"band":"K","pair":"lower","object":"young M9.5","wl":2.1052,"f":0.8148},
      {"band":"K","pair":"lower","object":"young M9.5","wl":2.1106,"f":0.8383},
      {"band":"K","pair":"lower","object":"young M9.5","wl":2.1188,"f":0.8653},
      {"band":"K","pair":"lower","object":"young M9.5","wl":2.1243,"f":0.8788},
      {"band":"K","pair":"lower","object":"young M9.5","wl":2.1325,"f":0.9124},
      {"band":"K","pair":"lower","object":"young M9.5","wl":2.1407,"f":0.9023},
      {"band":"K","pair":"lower","object":"young M9.5","wl":2.1489,"f":0.9023},
      {"band":"K","pair":"lower","object":"young M9.5","wl":2.1571,"f":0.9057},
      {"band":"K","pair":"lower","object":"young M9.5","wl":2.1625,"f":0.9023},
      {"band":"K","pair":"lower","object":"young M9.5","wl":2.168,"f":0.9326},
      {"band":"K","pair":"lower","object":"young M9.5","wl":2.1762,"f":0.9528},
      {"band":"K","pair":"lower","object":"young M9.5","wl":2.1844,"f":0.9528},
      {"band":"K","pair":"lower","object":"young M9.5","wl":2.1926,"f":0.9495},
      {"band":"K","pair":"lower","object":"young M9.5","wl":2.2008,"f":0.9596},
      {"band":"K","pair":"lower","object":"young M9.5","wl":2.209,"f":0.973},
      {"band":"K","pair":"lower","object":"young M9.5","wl":2.2172,"f":0.9798},
      {"band":"K","pair":"lower","object":"young M9.5","wl":2.2254,"f":0.9784},
      {"band":"K","pair":"lower","object":"young M9.5","wl":2.2336,"f":0.9865},
      {"band":"K","pair":"lower","object":"young M9.5","wl":2.2418,"f":0.9986},
      {"band":"K","pair":"lower","object":"young M9.5","wl":2.25,"f":0.9899},
      {"band":"K","pair":"lower","object":"young M9.5","wl":2.2554,"f":0.9663},
      {"band":"K","pair":"lower","object":"young M9.5","wl":2.2609,"f":0.9798},
      {"band":"K","pair":"lower","object":"young M9.5","wl":2.268,"f":1.0},
      {"band":"K","pair":"lower","object":"young M9.5","wl":2.2746,"f":0.973},
      {"band":"K","pair":"lower","object":"young M9.5","wl":2.2828,"f":0.9528},
      {"band":"K","pair":"lower","object":"young M9.5","wl":2.2899,"f":0.9427},
      {"band":"K","pair":"lower","object":"young M9.5","wl":2.2964,"f":0.9057},
      {"band":"K","pair":"lower","object":"young M9.5","wl":2.3019,"f":0.8889},
      {"band":"K","pair":"lower","object":"young M9.5","wl":2.3074,"f":0.9225},
      {"band":"K","pair":"lower","object":"young M9.5","wl":2.3117,"f":0.909},
      {"band":"K","pair":"lower","object":"young M9.5","wl":2.3183,"f":0.862},
      {"band":"K","pair":"lower","object":"young M9.5","wl":2.3238,"f":0.8417},
      {"band":"K","pair":"lower","object":"young M9.5","wl":2.3292,"f":0.8249},
      {"band":"K","pair":"lower","object":"young M9.5","wl":2.3347,"f":0.8114},
      {"band":"K","pair":"lower","object":"young M9.5","wl":2.3401,"f":0.8181},
      {"band":"K","pair":"lower","object":"young M9.5","wl":2.3467,"f":0.8249},
      {"band":"K","pair":"lower","object":"young M9.5","wl":2.3511,"f":0.8181},
      {"band":"K","pair":"lower","object":"young M9.5","wl":2.3565,"f":0.7676},
      {"band":"K","pair":"lower","object":"young M9.5","wl":2.362,"f":0.7643},
      {"band":"K","pair":"lower","object":"young M9.5","wl":2.3675,"f":0.781},
      {"band":"K","pair":"lower","object":"young M9.5","wl":2.3757,"f":0.771},
      {"band":"K","pair":"lower","object":"young M9.5","wl":2.3811,"f":0.7508},
      {"band":"K","pair":"lower","object":"young M9.5","wl":2.3882,"f":0.7171},
      {"band":"K","pair":"lower","object":"young M9.5","wl":2.3948,"f":0.734},
      {"band":"K","pair":"lower","object":"young M9.5","wl":2.4003,"f":0.734},
      {"band":"K","pair":"lower","object":"young M9.5","wl":2.4057,"f":0.707},
      {"band":"K","pair":"lower","object":"young M9.5","wl":2.4112,"f":0.6734},
      {"band":"K","pair":"lower","object":"young M9.5","wl":2.4194,"f":0.6532},
      {"band":"K","pair":"lower","object":"young M9.5","wl":2.4276,"f":0.6296},
      {"band":"K","pair":"lower","object":"young M9.5","wl":2.4358,"f":0.6195},
      {"band":"K","pair":"lower","object":"young M9.5","wl":2.444,"f":0.6094},
      {"band":"K","pair":"lower","object":"young M9.5","wl":2.4522,"f":0.5825},
      {"band":"K","pair":"lower","object":"young M9.5","wl":2.4604,"f":0.5421},
      {"band":"K","pair":"lower","object":"young M9.5","wl":2.4686,"f":0.5555},
      {"band":"K","pair":"lower","object":"young M9.5","wl":2.474,"f":0.532},
      {"band":"K","pair":"lower","object":"young M9.5","wl":2.4795,"f":0.5219},
      {"band":"K","pair":"lower","object":"young M9.5","wl":2.4877,"f":0.5084},
      {"band":"K","pair":"lower","object":"young M9.5","wl":2.4931,"f":0.505}
    ]
  },
  "hconcat": [
    {
      "width": 336,
      "height": 544,
      "data": {"name": "spectra"},
      "transform": [{"filter": "datum.band == 'H'"}],
      "layer": [
        {
          "transform": [{"filter": "datum.pair == 'upper'"}],
          "mark": {"type": "line", "color": "black", "strokeWidth": 1.2, "interpolate": "monotone", "clip": true},
          "encoding": {
            "x": {
              "field": "wl", "type": "quantitative",
              "scale": {"domain": [1.48, 1.8], "nice": false, "zero": false},
              "axis": {
                "orient": "bottom",
                "values": [1.5, 1.55, 1.6, 1.65, 1.7, 1.75, 1.8],
                "tickSize": {"condition": {"test": "abs(datum.value*10 - round(datum.value*10)) < 0.01", "value": -14}, "value": -7},
                "labelExpr": "abs(datum.value*10 - round(datum.value*10)) < 0.01 ? format(datum.value, '.1~f') : ''",
                "labelPadding": 28,
                "labelOverlap": false,
                "labelFlush": false,
                "title": "λ(μm)",
                "titleX": 348,
                "titlePadding": 8,
                "titleFontSize": 21
              }
            },
            "y": {
              "field": "f", "type": "quantitative",
              "scale": {"domain": [0.5, 1.6], "nice": false, "zero": false},
              "axis": {
                "orient": "left",
                "values": [0.5, 0.6, 0.7, 0.8, 0.9, 1.0, 1.1, 1.2, 1.3, 1.4, 1.5],
                "tickSize": {"condition": {"test": "abs(datum.value*2 - round(datum.value*2)) < 0.01", "value": -15}, "value": -7},
                "labelExpr": "abs(datum.value*2 - round(datum.value*2)) < 0.01 ? format(datum.value, '.1~f') : ''",
                "labelPadding": 28,
                "labelOverlap": false,
                "labelFlush": false,
                "title": "Fλ+constant",
                "titlePadding": 19,
                "titleFontSize": 20
              }
            },
            "strokeDash": {
              "field": "object", "type": "nominal",
              "scale": {"domain": ["OTS 44", "M9V"], "range": [[1, 0], [2, 5.5]]},
              "legend": {"orient": "none", "legendX": 118, "legendY": 189, "title": null, "labelFont": "DejaVu Serif", "labelFontSize": 17}
            }
          }
        },
        {
          "transform": [{"filter": "datum.pair == 'lower'"}],
          "mark": {"type": "line", "color": "black", "strokeWidth": 1.2, "interpolate": "monotone", "clip": true},
          "encoding": {
            "x": {
              "field": "wl", "type": "quantitative",
              "scale": {"domain": [1.48, 1.8], "nice": false, "zero": false},
              "axis": {
                "orient": "top",
                "values": [1.5, 1.55, 1.6, 1.65, 1.7, 1.75, 1.8],
                "tickSize": {"condition": {"test": "abs(datum.value*10 - round(datum.value*10)) < 0.01", "value": -14}, "value": -7},
                "labels": false,
                "title": null
              }
            },
            "y": {
              "field": "f", "type": "quantitative",
              "scale": {"domain": [0.5, 1.6], "nice": false, "zero": false},
              "axis": {
                "orient": "right",
                "values": [0.5, 0.6, 0.7, 0.8, 0.9, 1.0, 1.1, 1.2, 1.3, 1.4, 1.5],
                "tickSize": {"condition": {"test": "abs(datum.value*2 - round(datum.value*2)) < 0.01", "value": -15}, "value": -7},
                "labels": false,
                "title": null
              }
            },
            "strokeDash": {
              "field": "object", "type": "nominal",
              "scale": {"domain": ["OTS 44", "young M9.5"], "range": [[1, 0], [2, 5.5]]},
              "legend": {"orient": "none", "legendX": 118, "legendY": 437, "title": null, "labelFont": "DejaVu Serif", "labelFontSize": 17}
            }
          }
        }
      ],
      "resolve": {
        "axis": {"x": "independent", "y": "independent"},
        "scale": {"strokeDash": "independent"},
        "legend": {"strokeDash": "independent"}
      }
    },
    {
      "width": 336,
      "height": 544,
      "data": {"name": "spectra"},
      "transform": [{"filter": "datum.band == 'K'"}],
      "layer": [
        {
          "transform": [{"filter": "datum.pair == 'upper'"}],
          "mark": {"type": "line", "color": "black", "strokeWidth": 1.2, "interpolate": "monotone", "clip": true},
          "encoding": {
            "x": {
              "field": "wl", "type": "quantitative",
              "scale": {"domain": [1.95, 2.5], "nice": false, "zero": false},
              "axis": {
                "orient": "bottom",
                "values": [2.0, 2.05, 2.1, 2.15, 2.2, 2.25, 2.3, 2.35, 2.4, 2.45, 2.5],
                "tickSize": {"condition": {"test": "abs(datum.value*10 - round(datum.value*10)) < 0.01", "value": -14}, "value": -7},
                "labelExpr": "abs(datum.value*10 - round(datum.value*10)) < 0.01 ? format(datum.value, '.1~f') : ''",
                "labelPadding": 28,
                "labelOverlap": false,
                "labelFlush": false,
                "title": null
              }
            },
            "y": {
              "field": "f", "type": "quantitative",
              "scale": {"domain": [0.5, 1.6], "nice": false, "zero": false},
              "axis": {
                "orient": "left",
                "values": [0.5, 0.6, 0.7, 0.8, 0.9, 1.0, 1.1, 1.2, 1.3, 1.4, 1.5],
                "tickSize": {"condition": {"test": "abs(datum.value*2 - round(datum.value*2)) < 0.01", "value": -15}, "value": -7},
                "labels": false,
                "title": null
              }
            },
            "strokeDash": {
              "field": "object", "type": "nominal",
              "scale": {"domain": ["OTS 44", "M9V"], "range": [[1, 0], [2, 5.5]]},
              "legend": null
            }
          }
        },
        {
          "transform": [{"filter": "datum.pair == 'lower'"}],
          "mark": {"type": "line", "color": "black", "strokeWidth": 1.2, "interpolate": "monotone", "clip": true},
          "encoding": {
            "x": {
              "field": "wl", "type": "quantitative",
              "scale": {"domain": [1.95, 2.5], "nice": false, "zero": false},
              "axis": {
                "orient": "top",
                "values": [2.0, 2.05, 2.1, 2.15, 2.2, 2.25, 2.3, 2.35, 2.4, 2.45, 2.5],
                "tickSize": {"condition": {"test": "abs(datum.value*10 - round(datum.value*10)) < 0.01", "value": -14}, "value": -7},
                "labels": false,
                "title": null
              }
            },
            "y": {
              "field": "f", "type": "quantitative",
              "scale": {"domain": [0.5, 1.6], "nice": false, "zero": false},
              "axis": {
                "orient": "right",
                "values": [0.5, 0.6, 0.7, 0.8, 0.9, 1.0, 1.1, 1.2, 1.3, 1.4, 1.5],
                "tickSize": {"condition": {"test": "abs(datum.value*2 - round(datum.value*2)) < 0.01", "value": -15}, "value": -7},
                "labels": false,
                "title": null
              }
            },
            "strokeDash": {
              "field": "object", "type": "nominal",
              "scale": {"domain": ["OTS 44", "young M9.5"], "range": [[1, 0], [2, 5.5]]},
              "legend": null
            }
          }
        }
      ],
      "resolve": {
        "axis": {"x": "independent", "y": "independent"},
        "scale": {"strokeDash": "independent"}
      }
    }
  ],
  "config": {
    "view": {"stroke": "black", "strokeWidth": 1.2},
    "axis": {
      "domain": false,
      "grid": false,
      "tickColor": "black",
      "tickWidth": 1.1,
      "labelFont": "DejaVu Serif",
      "labelFontSize": 18,
      "labelColor": "black",
      "titleFont": "DejaVu Serif",
      "titleFontWeight": "normal",
      "titleColor": "black"
    },
    "legend": {
      "padding": 0,
      "symbolType": "stroke",
      "symbolSize": 3086,
      "symbolStrokeWidth": 1.2,
      "symbolStrokeColor": "black",
      "labelFont": "DejaVu Serif",
      "labelFontSize": 17,
      "labelColor": "black",
      "labelOffset": 6,
      "clipHeight": 17,
      "rowPadding": 6
    }
  }
}
